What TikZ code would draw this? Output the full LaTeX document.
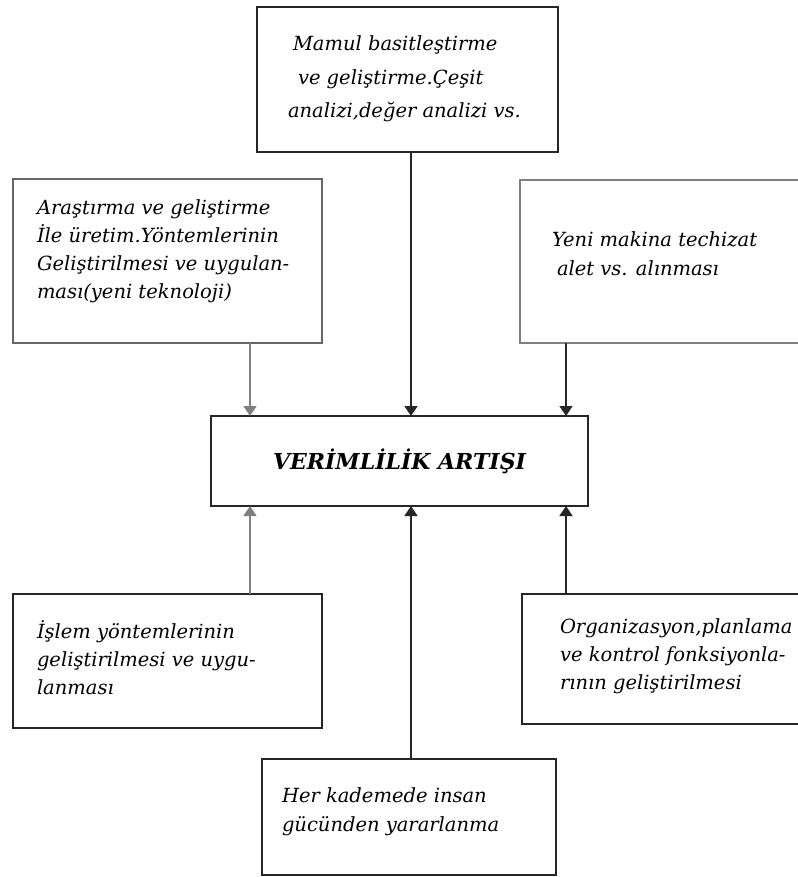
\documentclass[tikz,border=0pt]{standalone}
\usepackage{fontspec}
\setmainfont{DejaVu Serif}
\usetikzlibrary{arrows.meta}
\definecolor{dk}{gray}{0.15}
\definecolor{md}{gray}{0.40}
\definecolor{lt}{gray}{0.50}
\tikzset{
  box/.style={draw=#1, line width=1.5pt, anchor=north west, inner sep=0pt, outer sep=0pt, fill=white},
  box/.default=dk,
  arr/.style={-{Triangle[width=13pt,length=10pt]}, line width=1.6pt, draw=#1},
  arr/.default=dk,
}
% width, height, top pad, left pad, baselineskip, text
\newcommand{\boxtxt}[6]{\parbox[c][#2][t]{#1}{\fontsize{19.5pt}{#5}\selectfont\itshape
  \raggedright\leftskip=#4\relax\parindent=0pt\vspace*{#3}\rule{0pt}{19pt}#6\par}}
\begin{document}
\begin{tikzpicture}[x=1pt,y=-1pt]
\useasboundingbox (0,0) rectangle (797,877);
\node[box] (T) at (257,7) {\boxtxt{301pt}{145pt}{25pt}{33pt}{33.5pt}{%
  \hspace*{3pt}Mamul basitleştirme\\
  \hspace*{8pt}ve geliştirme.Çeşit\\
  \hspace*{-2pt}analizi,değer analizi vs.}};
\node[box=md] (L) at (13,179) {\boxtxt{309pt}{164pt}{16pt}{24pt}{28pt}{%
  Araştırma ve geliştirme\\
  İle üretim.Yöntemlerinin\\
  Geliştirilmesi ve uygulan-\\
  ması(yeni teknoloji)}};
\node[box=lt] (R) at (520,180) {\boxtxt{290pt}{163pt}{47pt}{32pt}{29pt}{%
  Yeni makina techizat\\
  \hspace*{5pt}alet vs. alınması}};
\node[box, minimum width=377pt, minimum height=90pt] (C) at (211,416)
  {\fontsize{22pt}{22pt}\selectfont\bfseries\itshape VERİMLİLİK ARTIŞI};
\node[box] (BL) at (13,594) {\boxtxt{309pt}{134pt}{25pt}{24pt}{28pt}{%
  İşlem yöntemlerinin\\
  geliştirilmesi ve uygu-\\
  lanması}};
\node[box] (BR) at (522,594) {\boxtxt{290pt}{130pt}{20pt}{38pt}{28pt}{%
  Organizasyon,planlama\\
  ve kontrol fonksiyonla-\\
  rının geliştirilmesi}};
\node[box] (B) at (262,759) {\boxtxt{294pt}{116pt}{24pt}{20pt}{29pt}{%
  Her kademede insan\\
  gücünden yararlanma}};
\coordinate (xl) at (250,0);
\coordinate (xm) at (411,0);
\coordinate (xr) at (566,0);
\draw[arr=lt] (L.south -| xl) -- (C.north -| xl);
\draw[arr] (T.south -| xm) -- (C.north -| xm);
\draw[arr] (R.south -| xr) -- (C.north -| xr);
\draw[arr=lt] (BL.north -| xl) -- (C.south -| xl);
\draw[arr] (B.north -| xm) -- (C.south -| xm);
\draw[arr] (BR.north -| xr) -- (C.south -| xr);
\end{tikzpicture}
\end{document}
